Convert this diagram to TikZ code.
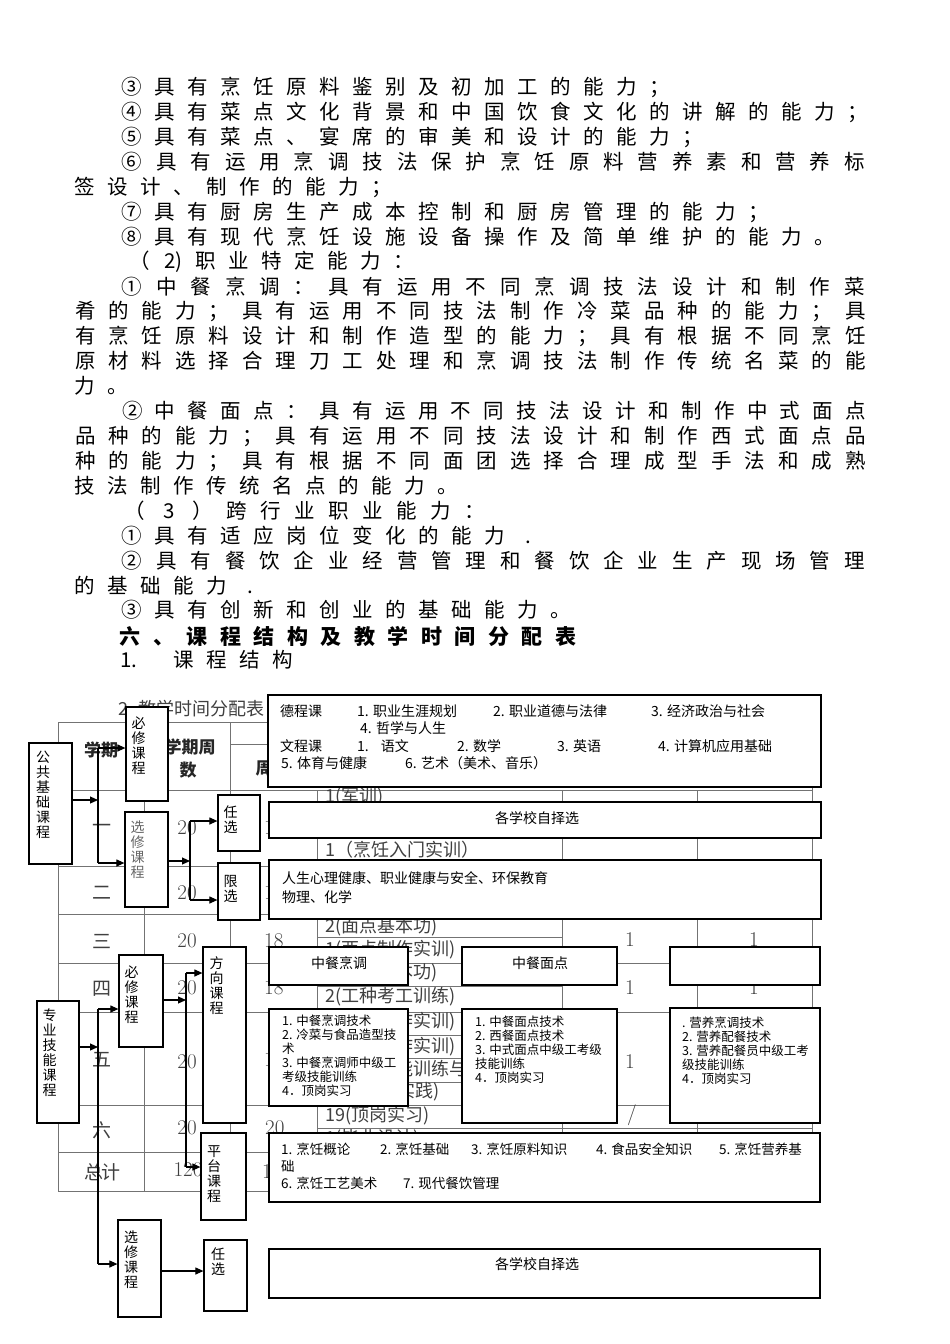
\documentclass[tikz,border=0pt]{standalone}
\usepackage{fontspec}
\newfontfamily\cjk{Noto Sans CJK SC}
\usetikzlibrary{arrows.meta}

\makeatletter
% one glyph per fixed-width cell
\newcommand\spaced[2]{\hbox{\@tfor\sp@c:=#2\do{\hbox to #1{\hss\sp@c\hss}}}}
\makeatother

\begin{document}
\begin{tikzpicture}[x=1pt, y=-1pt]
    \tikzstyle{body_style} = [anchor=west, inner sep=0pt, font=\cjk\fontsize{20.5}{20.5}\selectfont]
    \tikzstyle{grid_style} = [black!55, line width=0.8pt]
    \tikzstyle{cell_style} = [black!75, inner sep=0pt, font=\cjk\fontsize{19}{19}\selectfont]
    \tikzstyle{col_style} = [black!75, anchor=west, inner sep=0pt, font=\cjk\fontsize{18}{18}\selectfont]
    \tikzstyle{num_style} = [black!75, inner sep=0pt, font=\fontsize{21}{21}\selectfont]
    \tikzstyle{head_style} = [black!85, inner sep=0pt, font=\cjk\bfseries\fontsize{17}{17}\selectfont]
    \tikzstyle{box_style} = [draw=black, fill=white, line width=1.2pt, inner sep=0pt]
    \tikzstyle{vlabel_style} = [align=center, inner sep=0pt, font=\cjk\fontsize{14}{15}\selectfont]
    \tikzstyle{item_style} = [anchor=west, inner sep=0pt, font=\cjk\fontsize{14}{17}\selectfont]
    \tikzstyle{detail_style} = [anchor=north west, align=left, inner sep=0pt, font=\cjk\fontsize{12.5}{14}\selectfont]
    \tikzstyle{arrow_style} = [->, black, line width=1.1pt, >={Triangle[length=8pt, width=7pt]}]
    \tikzstyle{line_style} = [-, black, line width=1.1pt]

    \useasboundingbox (0,0) rectangle (950,1344);
    \fill[white] (0,0) rectangle (950,1344);

    % text above the diagram
    \node[body_style] (l1) at (115.5,87) {\spaced{33pt}{③具有烹饪原料鉴别及初加工的能力；}};
    \node[body_style] (l2) at (115.5,112) {\spaced{33pt}{④具有菜点文化背景和中国饮食文化的讲解的能力；}};
    \node[body_style] (l3) at (115.5,137) {\spaced{33pt}{⑤具有菜点、宴席的审美和设计的能力；}};
    \node[body_style] (l4) at (114.8,162) {\spaced{34.4pt}{⑥具有运用烹调技法保护烹饪原料营养素和营养标}};
    \node[body_style] (l5) at (68.5,187) {\spaced{33pt}{签设计、制作的能力；}};
    \node[body_style] (l6) at (115.5,212) {\spaced{33pt}{⑦具有厨房生产成本控制和厨房管理的能力；}};
    \node[body_style] (l7) at (115.5,237) {\spaced{33pt}{⑧具有现代烹饪设施设备操作及简单维护的能力。}};
    \node[body_style] (l8) at (123.5,262) {\spaced{33pt}{（{2)}职业特定能力：}};
    \node[body_style] (l9) at (114.8,287) {\spaced{34.4pt}{①中餐烹调：具有运用不同烹调技法设计和制作菜}};
    \node[body_style] (l10) at (68.3,311) {\spaced{33.5pt}{肴的能力；具有运用不同技法制作冷菜品种的能力；具}};
    \node[body_style] (l11) at (68.3,336) {\spaced{33.5pt}{有烹饪原料设计和制作造型的能力；具有根据不同烹饪}};
    \node[body_style] (l12) at (68.3,361) {\spaced{33.5pt}{原材料选择合理刀工处理和烹调技法制作传统名菜的能}};
    \node[body_style] (l13) at (68.5,386) {\spaced{33pt}{力。}};
    \node[body_style] (l14) at (115.6,411) {\spaced{32.9pt}{②中餐面点：具有运用不同技法设计和制作中式面点}};
    \node[body_style] (l15) at (68.3,436) {\spaced{33.5pt}{品种的能力；具有运用不同技法设计和制作西式面点品}};
    \node[body_style] (l16) at (68.3,461) {\spaced{33.5pt}{种的能力；具有根据不同面团选择合理成型手法和成熟}};
    \node[body_style] (l17) at (68.5,486) {\spaced{33pt}{技法制作传统名点的能力。}};
    \node[body_style] (l18) at (118,511) {\spaced{34pt}{（3）跨行业职业能力：}};
    \node[body_style] (l19) at (115.5,536) {\spaced{33pt}{①具有适应岗位变化的能力.}};
    \node[body_style] (l20) at (114.8,561) {\spaced{34.4pt}{②具有餐饮企业经营管理和餐饮企业生产现场管理}};
    \node[body_style] (l21) at (68.5,586) {\spaced{33pt}{的基础能力.}};
    \node[body_style] (l22) at (115.5,610) {\spaced{33pt}{③具有创新和创业的基础能力。}};
    \node[body_style, font=\cjk\bfseries\fontsize{21}{21}\selectfont] (l23) at (113.5,636) {\spaced{33.5pt}{六、课程结构及教学时间分配表}};
    \node[body_style] (l24a) at (120,660) {1.};
    \node[body_style] (l24b) at (167.5,660) {\spaced{33pt}{课程结构}};

    % table behind the boxes
    \node[cell_style, anchor=west, font=\cjk\fontsize{18}{18}\selectfont] (cap) at (118,709) {2. 教学时间分配表};
    \foreach \y in {722,790,866,914,963,1012,1105,1152,1191}
        \draw[grid_style] (58,\y) -- (812,\y);
    \foreach \y in {937,986,1035,1058,1082}
        \draw[grid_style] (317,\y) -- (562,\y);
    \draw[grid_style] (317,1128) -- (812,1128);
    \draw[grid_style] (230,744) -- (812,744);
    \foreach \x in {58,144,230,812}
        \draw[grid_style] (\x,722) -- (\x,1191);
    \foreach \x in {317,562,697}
        \draw[grid_style] (\x,790) -- (\x,1191);

    \node[head_style] (h1) at (101,750) {学期};
    \node[head_style] (h2) at (190,747) {学期周};
    \node[head_style] (h3) at (188,770) {数};
    \node[head_style] (h4) at (264,768) {周};

    \node[cell_style] (r1) at (102,828) {一};
    \node[cell_style] (r2) at (102,893) {二};
    \node[cell_style] (r3) at (102,941) {三};
    \node[cell_style] (r4) at (102,989) {四};
    \node[cell_style] (r5) at (102,1060) {五};
    \node[cell_style] (r6) at (102,1130) {六};
    \node[cell_style] (r7) at (102,1172) {\spaced{17pt}{总计}};

    \foreach \y [count=\i] in {828,893,941,988,1062,1128}
        \node[num_style] (w\i) at (187,\y) {20};
    \node[num_style] (w7) at (188,1170) {120};
    \foreach \y [count=\i] in {828,893,941,988,1060}
        \node[num_style, anchor=west] (z\i) at (264,\y) {18};
    \node[num_style, anchor=west] (z6) at (265,1128) {20};
    \node[num_style, anchor=west] (z7) at (262,1172) {110};

    \node[col_style] (c1) at (325,797) {1(军训)};
    \node[col_style] (c2) at (325,850) {1（烹饪入门实训）};
    \node[col_style] (c3) at (325,927) {2(面点基本功)};
    \node[col_style] (c4) at (325,950) {1(西点制作实训)};
    \node[col_style] (c5) at (325,973) {2(西点基本功)};
    \node[col_style] (c6) at (325,997) {2(工种考工训练)};
    \node[col_style] (c7) at (325,1022) {1(热菜制作实训)};
    \node[col_style] (c8) at (325,1047) {1(冷菜制作实训)};
    \node[col_style] (c9) at (325,1070) {2(综合技能训练与};
    \node[col_style] (c10) at (325,1092) {企业生产实践)};
    \node[col_style] (c11) at (325,1116) {19(顶岗实习)};
    \node[col_style] (c12) at (325,1139) {1(毕业设计)};

    \node[num_style] (e1) at (630,940) {1};
    \node[num_style] (e2) at (630,988) {1};
    \node[num_style] (e3) at (630,1062) {1};
    \node[num_style] (e4) at (632,1115) {/};
    \node[num_style] (f1) at (754,940) {1};
    \node[num_style] (f2) at (754,988) {1};

    % boxes of the course structure
    \node[box_style, minimum width=43pt, minimum height=121pt] (gj) at (50.5,803.5) {};
    \node[box_style, minimum width=42pt, minimum height=94pt] (bx1) at (147,754) {};
    \node[box_style, minimum width=43pt, minimum height=95pt] (xx1) at (146.5,859.5) {};
    \node[box_style, minimum width=42pt, minimum height=56pt] (rx1) at (239,823) {};
    \node[box_style, minimum width=42pt, minimum height=57pt] (xz) at (239,891.5) {};
    \node[box_style, minimum width=553pt, minimum height=92pt] (dk) at (544.5,741) {};
    \node[box_style, minimum width=552pt, minimum height=36pt] (zx1) at (545,820) {};
    \node[box_style, minimum width=552pt, minimum height=59pt] (rs) at (545,889.5) {};
    \node[box_style, minimum width=139pt, minimum height=38pt] (zc) at (338.5,966) {};
    \node[box_style, minimum width=155pt, minimum height=38pt] (zm) at (539.5,966) {};
    \node[box_style, minimum width=150pt, minimum height=38pt] (yy) at (745,966) {};
    \node[box_style, minimum width=139pt, minimum height=97pt] (zcd) at (338.5,1057.5) {};
    \node[box_style, minimum width=155pt, minimum height=114pt] (zmd) at (539.5,1066) {};
    \node[box_style, minimum width=150pt, minimum height=115pt] (yyd) at (745,1065.5) {};
    \node[box_style, minimum width=42pt, minimum height=122pt] (zy) at (58,1062) {};
    \node[box_style, minimum width=44pt, minimum height=92pt] (bx2) at (141,1001) {};
    \node[box_style, minimum width=43pt, minimum height=176pt] (fx) at (224.5,1035) {};
    \node[box_style, minimum width=45pt, minimum height=87pt] (pt) at (223.5,1176.5) {};
    \node[box_style, minimum width=551pt, minimum height=69pt] (ptd) at (544.5,1167.5) {};
    \node[box_style, minimum width=43pt, minimum height=97pt] (xx2) at (139.5,1268.5) {};
    \node[box_style, minimum width=43pt, minimum height=71pt] (rx2) at (225.5,1275.5) {};
    \node[box_style, minimum width=551pt, minimum height=49pt] (zx2) at (544.5,1273.5) {};

    \node[vlabel_style] (gj_t) at (43,795) {公\\共\\基\\础\\课\\程};
    \node[vlabel_style] (bx1_t) at (138.5,746) {必\\修\\课\\程};
    \node[vlabel_style, black!60] (xx1_t) at (137.5,850) {选\\修\\课\\程};
    \node[vlabel_style] (rx1_t) at (230.5,820) {任\\选};
    \node[vlabel_style] (xz_t) at (230.5,889) {限\\选};
    \node[vlabel_style] (zy_t) at (49.5,1053) {专\\业\\技\\能\\课\\程};
    \node[vlabel_style] (bx2_t) at (131.5,995) {必\\修\\课\\程};
    \node[vlabel_style] (fx_t) at (216.5,985.5) {方\\向\\课\\程};
    \node[vlabel_style] (pt_t) at (214,1174) {平\\台\\课\\程};
    \node[vlabel_style] (xx2_t) at (131,1259.5) {选\\修\\课\\程};
    \node[vlabel_style] (rx2_t) at (218,1262) {任\\选};

    \node[item_style] (d1) at (280,711) {德程课};
    \node[item_style] (d2) at (357,711) {1. 职业生涯规划};
    \node[item_style] (d3) at (493,711) {2. 职业道德与法律};
    \node[item_style] (d4) at (651,711) {3. 经济政治与社会};
    \node[item_style] (d5) at (360,728) {4. 哲学与人生};
    \node[item_style] (k1) at (280,746) {文程课};
    \node[item_style] (k2) at (357,746) {1.\hspace{12pt}语文};
    \node[item_style] (k3) at (457,746) {2. 数学};
    \node[item_style] (k4) at (557,746) {3. 英语};
    \node[item_style] (k5) at (658,746) {4. 计算机应用基础};
    \node[item_style] (k6) at (281,763) {5. 体育与健康};
    \node[item_style] (k7) at (405,763) {6. 艺术（美术、音乐）};

    \node[item_style, anchor=center] (zx1_t) at (537,818) {各学校自择选};
    \node[item_style] (rs1) at (282,878) {人生心理健康、职业健康与安全、环保教育};
    \node[item_style] (rs2) at (282,897) {物理、化学};
    \node[item_style, anchor=center] (zc_t) at (339,963) {中餐烹调};
    \node[item_style, anchor=center] (zm_t) at (540,963) {中餐面点};

    \node[detail_style] (zcd_t) at (282,1015) {1. 中餐烹调技术\\2. 冷菜与食品造型技\\术\\3. 中餐烹调师中级工\\考级技能训练\\4．顶岗实习};
    \node[detail_style] (zmd_t) at (475,1016) {1. 中餐面点技术\\2. 西餐面点技术\\3. 中式面点中级工考级\\技能训练\\4．顶岗实习};
    \node[detail_style] (yyd_t) at (682,1017) {. 营养烹调技术\\2. 营养配餐技术\\3. 营养配餐员中级工考\\级技能训练\\4．顶岗实习};

    \node[item_style, font=\cjk\fontsize{13.5}{16}\selectfont] (p1) at (281,1149) {1. 烹饪概论};
    \node[item_style, font=\cjk\fontsize{13.5}{16}\selectfont] (p2) at (380,1149) {2. 烹饪基础};
    \node[item_style, font=\cjk\fontsize{13.5}{16}\selectfont] (p3) at (471,1149) {3. 烹饪原料知识};
    \node[item_style, font=\cjk\fontsize{13.5}{16}\selectfont] (p4) at (596,1149) {4. 食品安全知识};
    \node[item_style, font=\cjk\fontsize{13.5}{16}\selectfont] (p5) at (719,1149) {5. 烹饪营养基};
    \node[item_style, font=\cjk\fontsize{13.5}{16}\selectfont] (p6) at (281,1166) {础};
    \node[item_style, font=\cjk\fontsize{13.5}{16}\selectfont] (p7) at (281,1183) {6. 烹饪工艺美术};
    \node[item_style, font=\cjk\fontsize{13.5}{16}\selectfont] (p8) at (403,1183) {7. 现代餐饮管理};
    \node[item_style, anchor=center] (zx2_t) at (537,1264) {各学校自择选};

    % arrows, public courses
    \coordinate (pa) at (98,800);
    \coordinate (pa_t) at (98,748);
    \coordinate (pa_b) at (98,863);
    \draw[arrow_style] (pa -| gj.east) -- (pa);
    \draw[line_style] (pa_t) -- (pa_b);
    \draw[arrow_style] (pa_t) -- (pa_t -| bx1.west);
    \draw[arrow_style] (pa_b) -- (pa_b -| xx1.west);
    \coordinate (pb) at (190,861);
    \coordinate (pb_t) at (190,821);
    \coordinate (pb_b) at (190,900);
    \draw[arrow_style] (pb -| xx1.east) -- (pb);
    \draw[line_style] (pb_t) -- (pb_b);
    \draw[arrow_style] (pb_t) -- (pb_t -| rx1.west);
    \draw[arrow_style] (pb_b) -- (pb_b -| xz.west);

    % arrows, skill courses
    \coordinate (qa) at (98,1047);
    \coordinate (qa_t) at (98,1009);
    \coordinate (qa_b) at (98,1264);
    \draw[arrow_style] (qa -| zy.east) -- (qa);
    \draw[line_style] (qa_t) -- (qa_b);
    \draw[arrow_style] (qa_t) -- (qa_t -| bx2.west);
    \draw[arrow_style] (qa_b) -- (qa_b -| xx2.west);
    \coordinate (qb) at (186,1000);
    \coordinate (qb_t) at (186,973);
    \coordinate (qb_b) at (186,1167);
    \draw[arrow_style] (qb -| bx2.east) -- (qb);
    \draw[line_style] (qb_t) -- (qb_b);
    \draw[arrow_style] (qb_t) -- (qb_t -| fx.west);
    \draw[arrow_style] (qb_b) -- (qb_b -| pt.west);
    \coordinate (qc) at (161,1271);
    \draw[arrow_style] (qc -| xx2.east) -- (qc -| rx2.west);
\end{tikzpicture}
\end{document}
